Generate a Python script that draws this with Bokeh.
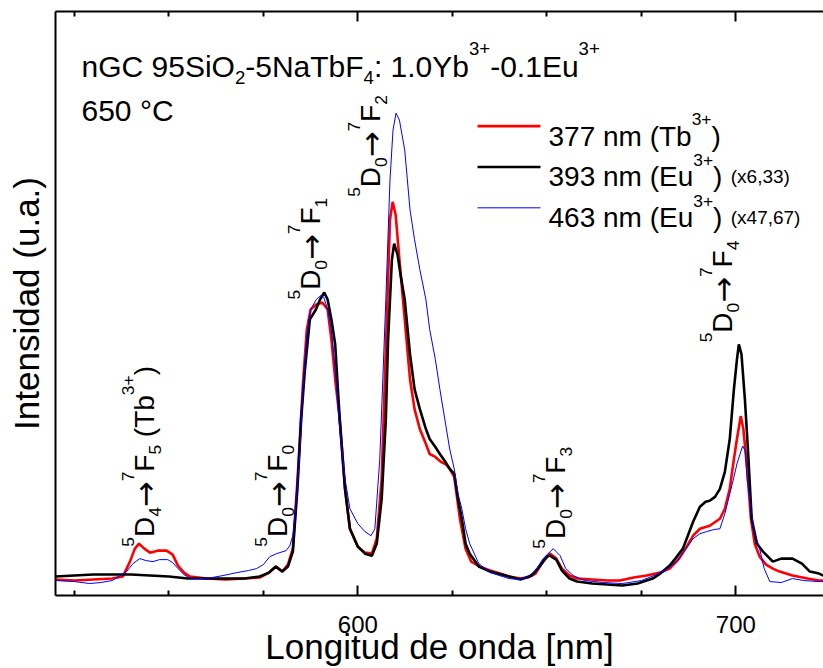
import math
from bokeh.plotting import figure
from bokeh.models import Range1d, LinearAxis, FixedTicker, Label
from bokeh.embed import file_html
from bokeh.resources import INLINE

# ---- spectra (wavelength in nm, intensity in arbitrary units) ----
wl_377 = [520, 525, 530, 535, 537.8, 539.7, 541, 542.1, 543.5, 545, 547, 549.4, 551, 552.4, 554,
          555.6, 560, 565, 570, 574, 576.5, 578.3, 580, 581.5, 582.8, 584, 585.5, 586.5, 587.5, 589,
          590.6, 592, 593, 594, 595.2, 596.6, 597.9, 600, 601.9, 603.7, 605, 606.3, 607.4, 608.5,
          609.2, 610, 611, 612.4, 613.8, 615, 616.4, 618, 619, 620.5, 622, 623.5, 624.3, 625.5, 627,
          628.5, 630, 632.3, 635, 637.6, 640, 643, 645, 647, 649, 650.8, 652.5, 654, 656, 658, 662,
          666, 669.3, 673, 676.4, 680, 682.5, 685, 687, 688.7, 690.5, 693.1, 695.8, 697.1, 698.4,
          699.5, 700.3, 701.3, 702, 703, 704, 705, 706.3, 708, 709.8, 711.6, 715, 719, 722, 723.2]
int_377 = [16, 15, 16, 17, 19, 34, 47, 52, 47, 43, 45, 45, 41, 30, 23,
           19, 17, 16, 17, 18, 23, 29, 24, 31, 47, 114, 214, 267, 287, 292,
           294, 287, 257, 217, 177, 107, 67, 49, 43, 42, 57, 117, 247, 377,
           395, 382, 337, 277, 217, 187, 167, 152, 142, 139, 134, 131, 127, 119, 77,
           47, 34, 29, 25, 22, 19, 17, 18, 22, 34, 42, 37, 27, 20, 17, 16,
           15, 15, 18, 20, 23, 27, 37, 49, 60, 67, 70, 77, 87, 107,
           137, 157, 180, 167, 127, 77, 52, 39, 31, 27, 24, 20, 17, 15, 15]

wl_393 = [520, 525, 530, 535, 540, 545, 550, 555, 560, 565, 570, 574, 576.5, 578.3, 580, 581.5,
          582.8, 584, 585, 586, 587.3, 588.9, 590, 591.1, 592, 593, 594, 595.2, 596.6, 597.9, 600,
          601.9, 603.7, 605, 606.3, 607.4, 608, 609, 609.6, 610.5, 611.5, 612.4, 613.8, 615, 616.4,
          618, 619, 620.5, 621.7, 623, 624.3, 625.5, 626.5, 627.5, 628.5, 629.6, 632, 635, 640, 643,
          646, 648, 650, 650.8, 652.5, 654, 656, 658, 662, 666, 670, 674, 678, 680, 682.5, 684, 686,
          687.5, 688.7, 690.5, 692, 693.1, 694.5, 695.8, 697.1, 698.4, 699.5, 700.3, 700.8, 701.5,
          702.4, 703.2, 704.2, 705.6, 707.2, 709.8, 712, 715, 717.5, 719.6, 722, 723.2]
int_393 = [19, 20, 21, 21, 21, 20, 19, 17, 17, 17, 17, 19, 23, 29, 24, 29,
           44, 107, 177, 227, 277, 287, 297, 304, 297, 277, 252, 177, 107, 67, 49,
           42, 40, 52, 97, 177, 257, 337, 353, 342, 317, 297, 242, 207, 187,
           167, 157, 149, 142, 135, 127, 122, 97, 77, 52, 42, 29, 24, 19, 16,
           20, 29, 39, 40, 36, 25, 17, 14, 12, 11, 10, 12, 17, 22, 30, 37, 47,
           62, 74, 89, 94, 95, 99, 107, 124, 157, 207, 237, 252, 242,
           197, 147, 77, 52, 44, 34, 37, 37, 32, 24, 22, 20]

wl_463 = [520, 525, 529, 532, 535, 538.8, 540.5, 542.3, 544, 545.8, 547.5, 549.7, 551, 552.4, 554,
          555.6, 560, 564.3, 568, 571, 573.2, 575, 576.7, 578.5, 581, 582, 582.8, 583.8, 584.7,
          585.5, 586.5, 587.5, 589, 590.2, 591, 592, 593, 594, 595.2, 596.6, 597.9, 600, 601.9,
          603.5, 604.5, 605.8, 607.4, 608.5, 609.3, 610.1, 611, 612.4, 613.8, 615, 616.4, 618, 619,
          620.5, 621.7, 623, 624.3, 625.5, 626.5, 627.5, 628.5, 629.6, 632, 635, 640, 643, 645, 647,
          649, 651.7, 653.5, 655, 657, 660, 665, 670, 675, 679, 682, 684.3, 686.5, 688.7, 690.5,
          692.2, 694, 695.8, 697.1, 698.4, 699.2, 700.3, 701.8, 702.5, 703, 704, 705, 706.3, 707.5,
          709, 712, 715, 718, 722, 723.2]
int_463 = [15, 14, 12, 13, 15, 24, 32, 37, 35, 34, 36, 36, 33, 27, 21,
           17, 17, 20, 23, 25, 27, 31, 39, 42, 45, 50, 60, 97, 147,
           207, 262, 287, 297, 301, 299, 287, 267, 227, 167, 117, 87, 72, 64,
           60, 67, 137, 297, 417, 467, 484, 477, 447, 387, 357, 327, 297, 267,
           237, 207, 177, 147, 127, 102, 87, 67, 52, 32, 23, 17, 16, 19, 25,
           37, 47, 40, 27, 20, 15, 13, 12, 15, 21, 27, 34, 45, 57, 62,
           64, 66, 67, 82, 102, 114, 132, 150, 145, 117, 87, 62, 47, 27,
           14, 13, 17, 15, 14, 14]

major_ticks = [600, 700]
minor_ticks = [525, 550, 575, 625, 650, 675]

SANS = "Liberation Sans"
ARROW_FONT = "DejaVu Sans"

# ---- geometry: plot frame spans px 55..823 horizontally, 11..597 vertically ----
W, H = 823, 668
FRAME_L, FRAME_T, FRAME_B = 55, 11, 597
X0, X1 = 520.0, 723.2
PX_PER_NM = (W - FRAME_L) / (X1 - X0)

p = figure(width=W, height=H, output_backend="svg", toolbar_location=None,
           x_range=Range1d(X0, X1), y_range=Range1d(0, FRAME_B - FRAME_T),
           min_border_left=FRAME_L, min_border_right=0, min_border_top=FRAME_T,
           min_border_bottom=H - FRAME_B,
           x_axis_location=None, y_axis_location=None)
p.outline_line_color = None
p.grid.visible = False
p.background_fill_color = "white"
p.border_fill_color = "white"


def sx2x(sx):
    return X0 + (sx - FRAME_L) / PX_PER_NM


def sy2y(sy):
    return FRAME_B - sy


def style_axis(ax):
    ax.axis_line_width = 2
    ax.axis_line_color = "black"
    ax.major_tick_in = 10
    ax.major_tick_out = 0
    ax.minor_tick_in = 5
    ax.minor_tick_out = 0
    ax.major_tick_line_width = 2
    ax.minor_tick_line_width = 2
    ax.major_tick_line_color = "black"
    ax.minor_tick_line_color = "black"


xb = LinearAxis(ticker=FixedTicker(ticks=major_ticks, minor_ticks=minor_ticks))
style_axis(xb)
xb.major_label_text_font = SANS
xb.major_label_text_font_size = "24px"
xb.major_label_text_color = "black"
xb.major_label_standoff = 20
xb.axis_label = "Longitud de onda [nm]"
xb.axis_label_text_font = SANS
xb.axis_label_text_font_size = "35px"
xb.axis_label_text_font_style = "normal"
xb.axis_label_text_color = "black"
xb.axis_label_standoff = -9
p.add_layout(xb, "below")

xt = LinearAxis(ticker=FixedTicker(ticks=major_ticks, minor_ticks=minor_ticks))
style_axis(xt)
xt.major_label_overrides = {t: "" for t in major_ticks}
xt.major_label_text_font_size = "1px"
xt.major_label_standoff = 0
p.add_layout(xt, "above")

yl = LinearAxis(ticker=FixedTicker(ticks=[]))
style_axis(yl)
yl.major_tick_in = 0
yl.minor_tick_in = 0
yl.axis_label = "Intensidad (u.a.)"
yl.axis_label_text_font = SANS
yl.axis_label_text_font_size = "35px"
yl.axis_label_text_font_style = "normal"
yl.axis_label_text_color = "black"
yl.axis_label_standoff = 10
p.add_layout(yl, "left")

# ---- spectra ----
p.line(wl_377, int_377, line_color="#ff0000", line_width=2.6)
p.line(wl_393, int_393, line_color="#000000", line_width=2.6)
p.line(wl_463, int_463, line_color="#0000ff", line_width=1.0)

# ---- text with super/subscripts ----
WIDTH = {' ': 278, '(': 333, ')': 333, '+': 584, ',': 278, '-': 333, '.': 278, ':': 278,
         'A': 667, 'C': 722, 'D': 722, 'E': 667, 'F': 611, 'G': 778, 'L': 556, 'N': 722,
         'O': 778, 'S': 667, 'T': 611, 'Y': 667, 'a': 556, 'b': 556, 'd': 556, 'e': 556,
         'g': 556, 'i': 222, 'l': 222, 'm': 833, 'n': 556, 'o': 556, 'r': 333, 's': 500,
         't': 278, 'u': 556, 'x': 500, '\u00b0': 400}
ARROW_W = 838

SCRIPT = 0.62
SUP_RAISE = 0.60
SUB_DROP = 0.38
SMALL = 0.68
ARROW_SCALE = 1.1


def text_width(s, size):
    return sum(WIDTH.get(c, 556) for c in s) / 1000.0 * size


def rich(parts, sx, sy, size, angle=0.0, color="black"):
    """Lay out (text, kind) runs along a baseline that starts at screen point (sx, sy)."""
    d = 0.0
    ca, sa = math.cos(angle), math.sin(angle)
    for txt, kind in parts:
        font = SANS
        if kind == "sup":
            fs, h = size * SCRIPT, size * SUP_RAISE
        elif kind == "sub":
            fs, h = size * SCRIPT, -size * SUB_DROP
        elif kind == "small":
            d += 0.3 * size
            fs, h = size * SMALL, 0.0
        elif kind == "arrow":
            fs, h, font = size * ARROW_SCALE, 0.0, ARROW_FONT
        else:
            fs, h = size, 0.0
        # leading spaces are collapsed by the renderer, so advance past them here
        body = txt.lstrip(" ")
        d += text_width(txt[:len(txt) - len(body)], fs)
        dx = d * ca - h * sa
        dy = d * sa + h * ca
        p.add_layout(Label(x=sx2x(sx), y=sy2y(sy), x_offset=dx, y_offset=dy, text=body,
                           angle=angle, text_font=font, text_font_size=f"{fs:.1f}px",
                           text_align="left", text_baseline="alphabetic", text_color=color))
        if kind == "arrow":
            d += ARROW_W / 1000.0 * fs
        else:
            d += text_width(body, fs)


N, SUP, SUB, ARR = "n", "sup", "sub", "arrow"

rich([("nGC 95SiO", N), ("2", SUB), ("-5NaTbF", N), ("4", SUB), (": 1.0Yb", N), ("3+", SUP),
      ("-0.1Eu", N), ("3+", SUP)], 81, 66, 30)
rich([("650 \u00b0C", N)], 81, 110, 30)

# transition labels, reading upwards
UP = math.pi / 2


def transition(lower, upper, sx, sy, tail=None):
    parts = [("5", SUP), ("D", N), (lower, SUB), ("\u2192", ARR), ("7", SUP), ("F", N),
             (upper, SUB)]
    if tail:
        parts += tail
    rich(parts, sx, sy, 28, UP)


transition("4", "5", 144, 548, [(" (Tb", N), ("3+", SUP), (")", N)])
transition("0", "0", 277, 548)
transition("0", "1", 310, 300)
transition("0", "2", 370, 197)
transition("0", "3", 555, 550)
transition("0", "4", 722, 343)

# ---- legend ----
legend_rows = [
    ("#ff0000", 2.6, [("377 nm (Tb", N), ("3+", SUP), (")", N)]),
    ("#000000", 2.6, [("393 nm (Eu", N), ("3+", SUP), (")", N), ("(x6,33)", "small")]),
    ("#0000ff", 1.0, [("463 nm (Eu", N), ("3+", SUP), (")", N), ("(x47,67)", "small")]),
]
LEG_Y0, LEG_DY = 126, 41
for i, (color, lw, parts) in enumerate(legend_rows):
    ly = LEG_Y0 + i * LEG_DY
    p.segment(x0=[sx2x(477)], y0=[sy2y(ly)], x1=[sx2x(540)], y1=[sy2y(ly)],
              line_color=color, line_width=lw)
    rich(parts, 548, ly + 10, 28)

open("out.html", "w").write(file_html(p, INLINE))
